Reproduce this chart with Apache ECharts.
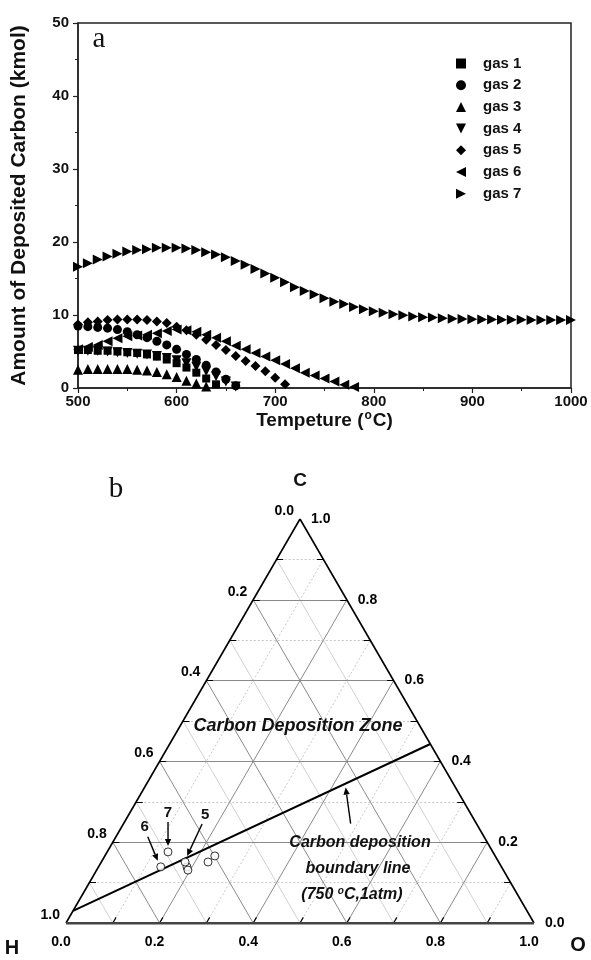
<!DOCTYPE html>
<html><head><meta charset="utf-8">
<script src="https://cdn.jsdelivr.net/npm/echarts@6/dist/echarts.min.js"></script>
<style>html,body{margin:0;padding:0;background:#fff}#c{width:591px;height:960px}</style>
</head><body><div id="c"></div>
<script>
// ---------- Panel a data ----------
const temps = [500,510,520,530,540,550,560,570,580,590,600,610,620,630,640,650,660,670,680,690,700,
  710,720,730,740,750,760,770,780,790,800,810,820,830,840,850,860,870,880,890,900,
  910,920,930,940,950,960,970,980,990,1000];
const gasNames = ['gas 1','gas 2','gas 3','gas 4','gas 5','gas 6','gas 7'];
const gas1 = [5.2,5.2,5.1,5.1,5.0,4.9,4.8,4.6,4.3,3.9,3.4,2.8,2.1,1.3,0.5];
const gas2 = [8.5,8.4,8.3,8.2,8.0,7.7,7.3,6.9,6.4,5.9,5.3,4.6,3.9,3.1,2.2,1.2,0.3];
const gas3 = [2.5,2.6,2.6,2.6,2.6,2.6,2.5,2.4,2.2,1.9,1.5,1.0,0.6,0.2];
const gas4 = [5.1,5.1,5.1,5.0,4.9,4.8,4.7,4.6,4.4,4.1,3.8,3.4,2.9,2.3,1.6,0.9,0.2];
const gas5 = [8.7,9.0,9.1,9.3,9.4,9.4,9.4,9.3,9.1,8.9,8.4,7.9,7.3,6.6,5.9,5.2,4.4,3.7,3.0,2.3,1.4,0.5];
const gas6 = [5.3,5.6,5.9,6.4,6.8,7.1,7.2,7.3,7.5,7.8,8.0,7.9,7.7,7.3,6.9,6.4,5.8,5.3,4.8,4.3,3.8,3.3,2.7,2.1,1.7,1.3,0.9,0.45,0.15];
const gas7 = [16.6,17.1,17.6,18.0,18.4,18.7,18.9,19.0,19.2,19.2,19.2,19.1,18.9,18.6,18.3,17.9,17.4,16.9,16.3,15.7,15.1,
  14.5,13.8,13.3,12.8,12.3,11.8,11.5,11.1,10.8,10.5,10.3,10.1,9.95,9.8,9.7,9.65,9.55,9.5,9.45,9.42,
  9.4,9.38,9.36,9.35,9.34,9.33,9.32,9.31,9.3,9.3];
const xTicks = [500,600,700,800,900,1000];
const yTicks = [0,10,20,30,40,50];

// ---------- Panel b data (ternary, fractions H, O, C) ----------
const ptNames = ['gas 1','gas 2','gas 3','gas 4','gas 5','gas 6','gas 7'];
const ptH = [0.672,0.674,0.621,0.599,0.670,0.728,0.694];
const ptO = [0.189,0.195,0.228,0.235,0.179,0.133,0.130];
const ptC = [0.139,0.131,0.151,0.166,0.151,0.139,0.176];
// boundary line end points (H, O, C)
const bndH = [0.97,0.0];
const bndO = [0.0,0.557];
const bndC = [0.03,0.443];
const ternTickLabels = [0.0,0.2,0.4,0.6,0.8,1.0];
const majorGrid = [0.2,0.4,0.6,0.8];
const minorGrid = [0.1,0.3,0.5,0.7,0.9];
const allTicks = [0.1,0.2,0.3,0.4,0.5,0.6,0.7,0.8,0.9];

const S3 = Math.sqrt(3)/2;
function tern(h,o,c){ return [o + c/2, c*S3]; }

const FONT = 'Liberation Sans, Arial, Helvetica, sans-serif';
const chart = echarts.init(document.getElementById('c'), null, {renderer:'canvas'});

const symbols = ['rect','circle','triangle','path://M0,0L10,0L5,10Z','diamond','path://M10,0L10,10L0,5Z','path://M0,0L10,5L0,10Z'];
const sizes = [8,9,10,10,10,10,10];
const gasData = [gas1,gas2,gas3,gas4,gas5,gas6,gas7];

const series = gasData.map((vals,k)=>({
  name: gasNames[k], type:'scatter', xAxisIndex:0, yAxisIndex:0,
  symbol: symbols[k], symbolSize: sizes[k],
  itemStyle:{color:'#000', opacity:1},
  data: vals.map((v,i)=>[temps[i], v]), z: 3
}));

function seg(a,b){ return {coords:[a,b]}; }
function lineC(v){ return seg(tern(1-v,0,v), tern(0,1-v,v)); }
function lineO(v){ return seg(tern(1-v,v,0), tern(0,v,1-v)); }
function lineH(v){ return seg(tern(v,1-v,0), tern(v,0,1-v)); }
const linesBase = {type:'lines', coordinateSystem:'cartesian2d', xAxisIndex:1, yAxisIndex:1, silent:true, symbol:'none', polyline:false};

series.push(Object.assign({}, linesBase, {name:'minorDot', z:1,
  data: minorGrid.map(lineC).concat(minorGrid.map(lineO)),
  lineStyle:{color:'#c8c8c8', width:1, type:[2,2], opacity:1}}));
series.push(Object.assign({}, linesBase, {name:'minorH', z:1,
  data: minorGrid.map(lineH),
  lineStyle:{color:'#d0d0d0', width:1, type:'solid', opacity:1}}));
series.push(Object.assign({}, linesBase, {name:'major', z:2,
  data: majorGrid.map(lineC).concat(majorGrid.map(lineO)).concat(majorGrid.map(lineH)),
  lineStyle:{color:'#8a8a8a', width:1, type:'solid', opacity:1}}));
// ticks
const tl = 0.014;
const tickSegs = [];
allTicks.forEach(v=>{
  const b = tern(1-v,v,0); tickSegs.push(seg(b,[b[0]+tl*0.5,b[1]+tl*S3]));
  const l = tern(1-v,0,v); tickSegs.push(seg(l,[l[0]+tl,l[1]]));
  const r = tern(0,1-v,v); tickSegs.push(seg(r,[r[0]-tl,r[1]]));
});
series.push(Object.assign({}, linesBase, {name:'ticks', z:4, data: tickSegs,
  lineStyle:{color:'#000', width:1.2, opacity:1}}));
// edges
series.push(Object.assign({}, linesBase, {name:'edges', z:5,
  data:[seg(tern(1,0,0),tern(0,0,1)), seg(tern(0,0,1),tern(0,1,0))],
  lineStyle:{color:'#000', width:1.6, opacity:1}}));
series.push(Object.assign({}, linesBase, {name:'base', z:5,
  data:[seg(tern(1,0,0),tern(0,1,0))],
  lineStyle:{color:'#444', width:3, opacity:1}}));
// boundary
series.push(Object.assign({}, linesBase, {name:'boundary', z:6,
  data:[seg(tern(bndH[0],bndO[0],bndC[0]), tern(bndH[1],bndO[1],bndC[1]))],
  lineStyle:{color:'#000', width:2, opacity:1}}));
// points
series.push({name:'pts', type:'scatter', xAxisIndex:1, yAxisIndex:1, symbol:'circle', symbolSize:8, z:8,
  itemStyle:{color:'#fff', borderColor:'#000', borderWidth:1},
  data: ptH.map((h,i)=>tern(h,ptO[i],ptC[i]))});
// tick labels
const lblStyle = {show:true, fontFamily:FONT, fontWeight:'bold', fontSize:14, color:'#000', opacity:1, textBorderWidth:0};
const lblBase = {type:'scatter', xAxisIndex:1, yAxisIndex:1, symbol:'circle', symbolSize:0.01,
  itemStyle:{color:'#000', opacity:1}, silent:true, z:9, emphasis:{disabled:true}};
series.push(Object.assign({}, lblBase, {name:'lblBottom',
  label:Object.assign({}, lblStyle, {position:'inside', offset:[-5,19]}),
  data: ternTickLabels.map(v=>({value:tern(1-v,v,0), label:{formatter:v.toFixed(1)}}))}));
series.push(Object.assign({}, lblBase, {name:'lblLeft',
  label:Object.assign({}, lblStyle, {position:'left', distance:6, offset:[0,-8]}),
  data: ternTickLabels.map(v=>({value:tern(v,0,1-v), label:{formatter:v.toFixed(1)}}))}));
series.push(Object.assign({}, lblBase, {name:'lblRight',
  label:Object.assign({}, lblStyle, {position:'right', distance:11, offset:[0,0]}),
  data: ternTickLabels.map(v=>({value:tern(0,1-v,v), label:{formatter:v.toFixed(1)}}))}));

const option = {
  backgroundColor:'#fff',
  animation:false,
  textStyle:{fontFamily:FONT},
  grid:[
    {left:78, top:23, width:493, height:365, show:true, borderColor:'#222', borderWidth:1.5, backgroundColor:'rgba(0,0,0,0)'},
    {left:66, top:519, width:468, height:404}
  ],
  xAxis:[
    {type:'value', gridIndex:0, min:500, max:1000, interval:100,
     axisLine:{show:true, onZero:false, lineStyle:{color:'#222', width:1.5}},
     axisTick:{show:true, inside:false, length:5, lineStyle:{color:'#222', width:1.2}},
     minorTick:{show:true, splitNumber:2, length:3, lineStyle:{color:'#222', width:1}},
     splitLine:{show:false},
     axisLabel:{fontFamily:FONT, fontWeight:'bold', fontSize:15, color:'#111', margin:6,
       formatter:v=>xTicks.indexOf(v)>=0?String(v):''},
     name:'{n|Tempeture (}{s|o}{n|C)}', nameLocation:'middle', nameGap:20,
     nameTextStyle:{rich:{
       n:{fontFamily:FONT, fontWeight:'bold', fontSize:19, color:'#111', lineHeight:21},
       s:{fontFamily:FONT, fontWeight:'bold', fontSize:12, color:'#111', verticalAlign:'top', lineHeight:12, padding:[0,1,0,1]}}}
    },
    {type:'value', gridIndex:1, min:0, max:1, show:false}
  ],
  yAxis:[
    {type:'value', gridIndex:0, min:0, max:50, interval:10,
     axisLine:{show:true, onZero:false, lineStyle:{color:'#222', width:1.5}},
     axisTick:{show:true, inside:false, length:5, lineStyle:{color:'#222', width:1.2}},
     minorTick:{show:true, splitNumber:2, length:3, lineStyle:{color:'#222', width:1}},
     splitLine:{show:false},
     axisLabel:{fontFamily:FONT, fontWeight:'bold', fontSize:15, color:'#111', margin:9,
       formatter:v=>yTicks.indexOf(v)>=0?String(v):''},
     name:'Amount of Deposited Carbon (kmol)', nameLocation:'middle', nameGap:48, nameRotate:90,
     nameTextStyle:{fontFamily:FONT, fontWeight:'bold', fontSize:21, color:'#111'}
    },
    {type:'value', gridIndex:1, min:0, max:S3, show:false}
  ],
  legend:{
    data:gasNames, orient:'vertical', left:451, top:51,
    itemWidth:10, itemHeight:10, itemGap:6.7, selectedMode:false,
    textStyle:{fontFamily:FONT, fontWeight:'bold', fontSize:15, color:'#111', lineHeight:15, padding:[0,0,0,12]}
  },
  series: series
};
chart.setOption(option);

// ---------- annotations (text and arrows) ----------
function px(h,o,c){ return chart.convertToPixel({xAxisIndex:1, yAxisIndex:1}, tern(h,o,c)); }
function arrow(x1,y1,x2,y2){
  const ang = Math.atan2(y2-y1, x2-x1), L=7, W=3.2;
  const bx = x2 - L*Math.cos(ang), by = y2 - L*Math.sin(ang);
  return [
    {type:'line', shape:{x1:x1,y1:y1,x2:bx,y2:by}, style:{stroke:'#000', lineWidth:1.4}, z:20},
    {type:'polygon', shape:{points:[[x2,y2],[bx+W*Math.sin(ang), by-W*Math.cos(ang)],[bx-W*Math.sin(ang), by+W*Math.cos(ang)]]}, style:{fill:'#000'}, z:20}
  ];
}
const txt = (x,y,text,opt)=>Object.assign({type:'text', x:x, y:y, z:30,
  style:Object.assign({text:text, fontFamily:FONT, fontWeight:'bold', fontSize:15, fill:'#111', align:'center', verticalAlign:'middle'}, opt||{})});

const p7 = px(ptH[6],ptO[6],ptC[6]);
const p6 = px(ptH[5],ptO[5],ptC[5]);
const p5 = px(ptH[4],ptO[4],ptC[4]);
const t = 0.763;
const bh = px(bndH[0]+t*(bndH[1]-bndH[0]), bndO[0]+t*(bndO[1]-bndO[0]), bndC[0]+t*(bndC[1]-bndC[0]));

let g = [];
g = g.concat(arrow(p7[0], p7[1]-30, p7[0], p7[1]-6));
g.push(txt(p7[0], p7[1]-39, '7'));
g = g.concat(arrow(p6[0]-13, p6[1]-30, p6[0]-3, p6[1]-6));
g.push(txt(p6[0]-16, p6[1]-40, '6'));
g = g.concat(arrow(p5[0]+17, p5[1]-38, p5[0]+2, p5[1]-6));
g.push(txt(p5[0]+20, p5[1]-47, '5'));
g = g.concat(arrow(bh[0]+5, bh[1]+40, bh[0], bh[1]+4));
g.push(txt(298, 726, 'Carbon Deposition Zone', {fontStyle:'italic', fontSize:18}));
g.push(txt(360, 843, 'Carbon deposition', {fontStyle:'italic', fontSize:16}));
g.push(txt(358, 869, 'boundary line', {fontStyle:'italic', fontSize:16}));
g.push({type:'text', x:352, y:895, z:30, style:{
  text:'{n|(750 }{s|o}{n|C,1atm)}', align:'center', verticalAlign:'middle',
  rich:{n:{fontFamily:FONT, fontWeight:'bold', fontStyle:'italic', fontSize:16, fill:'#111', lineHeight:18},
        s:{fontFamily:FONT, fontWeight:'bold', fontStyle:'italic', fontSize:10, fill:'#111', verticalAlign:'top', lineHeight:10}}}});
g.push(txt(99, 39, 'a', {fontFamily:'Liberation Serif, Times New Roman, serif', fontWeight:'normal', fontSize:29}));
g.push(txt(116, 489, 'b', {fontFamily:'Liberation Serif, Times New Roman, serif', fontWeight:'normal', fontSize:29}));
g.push(txt(300, 481, 'C', {fontSize:19}));
g.push(txt(12, 948, 'H', {fontSize:20}));
g.push(txt(578, 945, 'O', {fontSize:20}));
chart.setOption({graphic:{elements:g}});
</script>
</body></html>
